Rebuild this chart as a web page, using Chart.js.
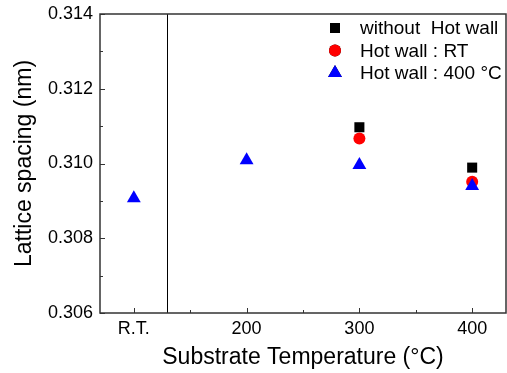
<!DOCTYPE html>
<html>
<head>
<meta charset="utf-8">
<script src="https://cdn.jsdelivr.net/npm/chart.js@4"></script>
<style>
  html, body { margin: 0; padding: 0; background: #fff; }
  #wrap { width: 507px; height: 373px; }
</style>
</head>
<body>
<div id="wrap"><canvas id="latticeChart" width="507" height="373"></canvas></div>
<script>
// x positions (R.T. is plotted at 100)
const temps = [100, 200, 300, 400];
const xTickLabels = ['R.T.', '200', '300', '400'];
const yTicks = [0.306, 0.308, 0.310, 0.312, 0.314];

const withoutHotWall = [null, null, 0.31097, 0.30989];
const hotWallRT = [null, null, 0.31067, 0.30951];
const hotWall400 = [0.30907, 0.31009, 0.30996, 0.30940];

const seriesNames = ['without  Hot wall', 'Hot wall : RT', 'Hot wall : 400 \u00b0C'];

function toPoints(vals) {
    return temps.map((t, i) => ({ x: t, y: vals[i] })).filter(p => p.y !== null);
}

const font = "'Liberation Sans', Arial, sans-serif";

const framePlugin = {
    id: 'frame',
    afterDraw(chart) {
        const ctx = chart.ctx;
        const a = chart.chartArea;
        const xs = chart.scales.x, ys = chart.scales.y;
        ctx.save();
        // divider between R.T. and heated samples
        ctx.strokeStyle = '#000';
        ctx.lineWidth = 1;
        const xd = Math.round(xs.getPixelForValue(129)) + 0.5;
        ctx.beginPath();
        ctx.moveTo(xd, a.top);
        ctx.lineTo(xd, a.bottom);
        ctx.stroke();

        // ticks, pointing inward
        ctx.strokeStyle = '#333';
        ctx.lineWidth = 1;
        ctx.beginPath();
        [100, 200, 300, 400].forEach(v => {
            const px = Math.round(xs.getPixelForValue(v)) + 0.5;
            ctx.moveTo(px, a.bottom); ctx.lineTo(px, a.bottom - 5);
        });
        [150, 250, 350].forEach(v => {
            const px = Math.round(xs.getPixelForValue(v)) + 0.5;
            ctx.moveTo(px, a.bottom); ctx.lineTo(px, a.bottom - 3);
        });
        yTicks.forEach(v => {
            const py = Math.round(ys.getPixelForValue(v)) + 0.5;
            ctx.moveTo(a.left, py); ctx.lineTo(a.left + 5, py);
        });
        [0.307, 0.309, 0.311, 0.313].forEach(v => {
            const py = Math.round(ys.getPixelForValue(v)) + 0.5;
            ctx.moveTo(a.left, py); ctx.lineTo(a.left + 3, py);
        });
        ctx.stroke();

        // box
        ctx.strokeStyle = '#333';
        ctx.lineWidth = 1.5;
        ctx.strokeRect(a.left, a.top, a.right - a.left, a.bottom - a.top);

        // legend
        ctx.font = '19px ' + font;
        ctx.fillStyle = '#000';
        ctx.textBaseline = 'middle';
        ctx.textAlign = 'left';
        chart.data.datasets.forEach((ds, i) => {
            const y = 28 + i * 22.5;
            Chart.helpers.drawPoint(ctx, {
                pointStyle: ds.pointStyle,
                radius: ds.pointRadius,
                rotation: 0,
                borderWidth: 0
            }, 335, y);
            ctx.fillStyle = ds.backgroundColor;
            ctx.fill();
            ctx.fillStyle = '#000';
            ctx.fillText(seriesNames[i], 360, y + 1);
        });
        ctx.restore();
    }
};

const ctx = document.getElementById('latticeChart').getContext('2d');
const latticeChart = new Chart(ctx, {
    type: 'scatter',
    data: {
        datasets: [{
            label: seriesNames[0],
            data: toPoints(withoutHotWall),
            pointStyle: 'rect',
            pointRadius: 7.1,
            backgroundColor: '#000000',
            borderWidth: 0,
            order: 3
        }, {
            label: seriesNames[1],
            data: toPoints(hotWallRT),
            pointStyle: 'circle',
            pointRadius: 6,
            backgroundColor: '#ff0000',
            borderWidth: 0,
            order: 2
        }, {
            label: seriesNames[2],
            data: toPoints(hotWall400),
            pointStyle: 'triangle',
            pointRadius: 8,
            backgroundColor: '#0000ff',
            borderWidth: 0,
            order: 1
        }]
    },
    options: {
        responsive: false,
        animation: false,
        layout: { autoPadding: false, padding: { top: 14, right: 1, left: 0, bottom: 0 } },
        scales: {
            x: {
                type: 'linear',
                min: 70,
                max: 430,
                afterBuildTicks: s => { s.ticks = temps.map(v => ({ value: v })); },
                afterFit: s => { s.height = 60; s.paddingLeft = 0; s.paddingRight = 0; },
                grid: { display: false, drawTicks: false },
                border: { display: false },
                ticks: {
                    padding: 5,
                    color: '#000',
                    font: { family: font, size: 18 },
                    callback: (v, i) => xTickLabels[i]
                },
                title: {
                    display: true,
                    text: 'Substrate Temperature (\u00b0C)',
                    color: '#000',
                    font: { family: font, size: 23 },
                    padding: { top: 0, bottom: 2 }
                }
            },
            y: {
                min: 0.306,
                max: 0.314,
                afterBuildTicks: s => { s.ticks = yTicks.map(v => ({ value: v })); },
                afterFit: s => { s.width = 100; s.paddingTop = 0; s.paddingBottom = 0; },
                grid: { display: false, drawTicks: false },
                border: { display: false },
                ticks: {
                    padding: 7,
                    color: '#000',
                    font: { family: font, size: 18 },
                    callback: v => v.toFixed(3)
                },
                title: {
                    display: true,
                    text: 'Lattice spacing (nm)',
                    color: '#000',
                    font: { family: font, size: 23 },
                    padding: { top: 11, bottom: 0 }
                }
            }
        },
        plugins: {
            legend: { display: false },
            tooltip: { enabled: false }
        }
    },
    plugins: [framePlugin]
});
</script>
</body>
</html>
